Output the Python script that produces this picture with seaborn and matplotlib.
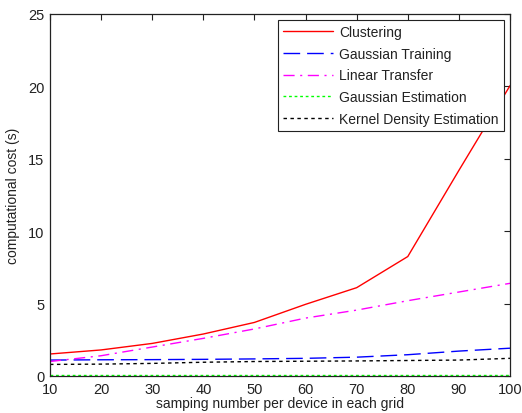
import numpy as np
import pandas as pd
import matplotlib
matplotlib.use("Agg")
import matplotlib.pyplot as plt
import seaborn as sns

sample_sizes = [10, 20, 30, 40, 50, 60, 70, 80, 90, 100]
clustering = [1.52, 1.80, 2.25, 2.90, 3.70, 4.95, 6.10, 8.25, 14.2, 20.05]
gaussian_training = [1.10, 1.12, 1.13, 1.15, 1.18, 1.22, 1.30, 1.47, 1.72, 1.92]
linear_transfer = [1.00, 1.40, 2.00, 2.60, 3.25, 4.00, 4.55, 5.20, 5.80, 6.40]
gaussian_estimation = [0.05, 0.05, 0.05, 0.05, 0.05, 0.05, 0.05, 0.05, 0.05, 0.05]
kernel_density = [0.80, 0.82, 0.87, 0.95, 1.00, 1.02, 1.04, 1.07, 1.10, 1.22]

series_names = ["Clustering", "Gaussian Training", "Linear Transfer",
                "Gaussian Estimation", "Kernel Density Estimation"]
series_values = [clustering, gaussian_training, linear_transfer,
                 gaussian_estimation, kernel_density]

df = pd.DataFrame({
    "samples": np.tile(sample_sizes, len(series_names)),
    "cost": np.concatenate(series_values),
    "method": np.repeat(series_names, len(sample_sizes)),
})

sns.set_theme(style="white")
plt.rcParams["font.family"] = ["Liberation Sans", "DejaVu Sans"]

colors = ["#ff0000", "#0000ff", "#ff00ff", "#00ff00", "#000000"]
dashes = [(None, None), (12, 5), (8, 4, 1.5, 4), (2, 2), (2.5, 2.5)]

fig = plt.figure(figsize=(5.22, 4.14), dpi=100)
ax = fig.add_axes([50 / 522, 1 - 377 / 414, 460 / 522, 362 / 414])

for name, col, dsh in zip(series_names, colors, dashes):
    sub = df[df["method"] == name]
    sns.lineplot(data=sub, x="samples", y="cost", ax=ax, color=col,
                 linewidth=1.0, label=name)
    ln = ax.get_lines()[-1]
    if dsh[0] is not None:
        ln.set_dashes(dsh)

ax.set_xlim(10, 100)
ax.set_ylim(0, 25)
ax.set_xticks(range(10, 101, 10))
ax.set_yticks(range(0, 26, 5))
ax.tick_params(direction="in", length=4, top=True, right=True,
               labelsize=10.5, colors="#222222", width=0.8)
ax.tick_params(axis="x", pad=4.5)
ax.tick_params(axis="y", pad=4)
for sp in ax.spines.values():
    sp.set_color("#222222")
    sp.set_linewidth(0.9)
ax.set_xlabel("samping number per device in each grid", fontsize=10, labelpad=0,
              color="#222222")
ax.set_ylabel("computational cost (s)", fontsize=10, labelpad=6, color="#222222")

leg = ax.legend(loc="upper right", fontsize=10, frameon=True, fancybox=False,
                edgecolor="#222222", framealpha=1, borderpad=0.35,
                handlelength=3.6, handletextpad=0.45, labelspacing=0.55,
                borderaxespad=0.45)
leg.get_frame().set_linewidth(0.8)
for t in leg.get_texts():
    t.set_color("#222222")

fig.savefig("out.png", dpi=100)
